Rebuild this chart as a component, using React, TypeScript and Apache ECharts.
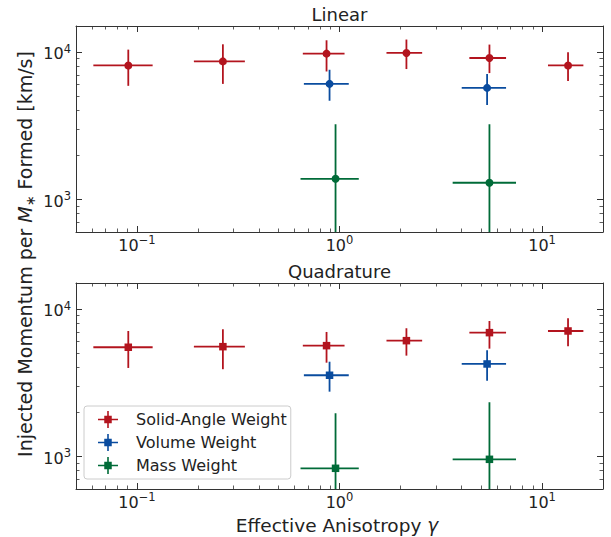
import React, { useEffect, useRef } from 'react';
import * as echarts from 'echarts';

// ---- data ----
const seriesNames = ['Solid-Angle Weight', 'Volume Weight', 'Mass Weight'];
const seriesColors = ['#b3141e', '#0a4c9f', '#006b38'];

// Effective anisotropy (x) centres and x error extents
const solidGamma = [0.0906, 0.2656, 0.863, 2.14, 5.5, 13.44];
const solidGammaLo = [0.0609, 0.191, 0.659, 1.706, 4.377, 10.7];
const solidGammaHi = [0.1195, 0.341, 1.059, 2.559, 6.643, 16.0];
const volumeGamma = [0.893, 5.355];
const volumeGammaLo = [0.667, 4.013];
const volumeGammaHi = [1.111, 6.643];
const massGamma = [0.956, 5.5];
const massGammaLo = [0.642, 3.62];
const massGammaHi = [1.245, 7.44];

// Linear panel: momentum [km/s]
const linSolid = [8100, 8627, 9737, 9843, 9100, 8100];
const linSolidLo = [5890, 6070, 7370, 7655, 7188, 6340];
const linSolidHi = [10370, 11270, 12000, 12140, 11220, 9940];
const linVolume = [6075, 5703];
const linVolumeLo = [4665, 4365];
const linVolumeHi = [7570, 7074];
const linMass = [1378, 1295];
const linMassLo = [-481, -647];
const linMassHi = [3237, 3237];

// Quadrature panel
const quadSolid = [5495, 5547, 5636, 6093, 6906, 7088];
const quadSolidLo = [3977, 3900, 4319, 4822, 5378, 5582];
const quadSolidHi = [7088, 7280, 6980, 7396, 8287, 8647];
const quadVolume = [3548, 4233];
const quadVolumeLo = [2746, 3261];
const quadVolumeHi = [4385, 5243];
const quadMass = [829, 954];
const quadMassLo = [-301, -418];
const quadMassHi = [1959, 2326];

const panelTitles = ['Linear', 'Quadrature'];
const X_MIN = 0.05;
const X_MAX = 20;
const Y_MIN = 600;
const Y_MAX = 15000;

const FONT = 'DejaVu Sans';
const INK = '#222';
const AXIS = '#333';

function rows(g: number[], gl: number[], gh: number[], y: number[], yl: number[], yh: number[]) {
  return g.map((v, i) => [v, y[i], gl[i], gh[i], yl[i], yh[i]]);
}

function supFormatter(v: number) {
  const l = Math.log10(v);
  const e = Math.round(l);
  if (Math.abs(l - e) > 1e-6) return '';
  const es = e < 0 ? '\u2212' + -e : String(e);
  return `{b|10}{s|${es}}`;
}

const labelRich = {
  b: { fontSize: 16, lineHeight: 18, padding: [4, 0, 0, 0], fontFamily: FONT, color: INK },
  s: { fontSize: 11.5, lineHeight: 13, verticalAlign: 'top', fontFamily: FONT, color: INK },
};

function makeErrorSeries(name: string, color: string, data: number[][], axisIdx: number, marker: 'circle' | 'square') {
  return {
    type: 'custom',
    name,
    xAxisIndex: axisIdx,
    yAxisIndex: axisIdx,
    clip: true,
    itemStyle: { color },
    encode: { x: 0, y: 1 },
    data,
    renderItem: (params: any, api: any) => {
      const x = api.value(0);
      const y = api.value(1);
      const c = api.coord([x, y]);
      const l = api.coord([api.value(2), y]);
      const r = api.coord([api.value(3), y]);
      const b = api.coord([x, Math.max(api.value(4), 1e-3)]);
      const t = api.coord([x, api.value(5)]);
      const ls = { stroke: color, lineWidth: 1.8 };
      const cs = params.coordSys;
      const mk =
        marker === 'circle'
          ? { type: 'circle', shape: { cx: c[0], cy: c[1], r: 4 }, style: { fill: color } }
          : { type: 'rect', shape: { x: c[0] - 3.75, y: c[1] - 3.75, width: 7.5, height: 7.5 }, style: { fill: color } };
      return {
        type: 'group',
        clipPath: { type: 'rect', shape: { x: cs.x, y: cs.y, width: cs.width, height: cs.height } },
        children: [
          { type: 'line', shape: { x1: l[0], y1: c[1], x2: r[0], y2: c[1] }, style: ls },
          { type: 'line', shape: { x1: c[0], y1: t[1], x2: c[0], y2: b[1] }, style: ls },
          mk,
        ],
      };
    },
  };
}

function xAxisFor(gridIndex: number, pos: 'bottom' | 'top') {
  return {
    type: 'log',
    gridIndex,
    position: pos,
    min: X_MIN,
    max: X_MAX,
    logBase: 10,
    axisLine: { show: true, onZero: false, lineStyle: { color: AXIS, width: 1 } },
    axisTick: { show: true, inside: true, length: 6, lineStyle: { color: AXIS, width: 1 } },
    minorTick: { show: true, splitNumber: 9, length: 3.5, lineStyle: { color: AXIS, width: 0.8 } },
    splitLine: { show: false },
    axisLabel: {
      show: pos === 'bottom',
      margin: 2,
      showMinLabel: false,
      showMaxLabel: false,
      formatter: supFormatter,
      rich: labelRich,
    },
  };
}

function yAxisFor(gridIndex: number, pos: 'left' | 'right') {
  return {
    type: 'log',
    gridIndex,
    position: pos,
    min: Y_MIN,
    max: Y_MAX,
    logBase: 10,
    axisLine: { show: true, onZero: false, lineStyle: { color: AXIS, width: 1 } },
    axisTick: { show: true, inside: true, length: 6, lineStyle: { color: AXIS, width: 1 } },
    minorTick: { show: true, splitNumber: 9, length: 3.5, lineStyle: { color: AXIS, width: 0.8 } },
    splitLine: { show: false },
    axisLabel: {
      show: pos === 'left',
      margin: 5,
      showMinLabel: false,
      showMaxLabel: false,
      formatter: supFormatter,
      rich: labelRich,
    },
  };
}

const legendIcon =
  'path://M9.2,0H10.8V17H9.2Z M0,7.7H20V9.3H0Z M6.25,4.75H13.75V12.25H6.25Z';

export default function App() {
  const ref = useRef<HTMLDivElement>(null);
  useEffect(() => {
    if (!ref.current) return;
    const chart = echarts.init(ref.current, undefined, { renderer: 'svg' });
    const panels = [
      {
        solid: rows(solidGamma, solidGammaLo, solidGammaHi, linSolid, linSolidLo, linSolidHi),
        volume: rows(volumeGamma, volumeGammaLo, volumeGammaHi, linVolume, linVolumeLo, linVolumeHi),
        mass: rows(massGamma, massGammaLo, massGammaHi, linMass, linMassLo, linMassHi),
        marker: 'circle' as const,
      },
      {
        solid: rows(solidGamma, solidGammaLo, solidGammaHi, quadSolid, quadSolidLo, quadSolidHi),
        volume: rows(volumeGamma, volumeGammaLo, volumeGammaHi, quadVolume, quadVolumeLo, quadVolumeHi),
        mass: rows(massGamma, massGammaLo, massGammaHi, quadMass, quadMassLo, quadMassHi),
        marker: 'square' as const,
      },
    ];
    const series: any[] = [];
    panels.forEach((p, gi) => {
      const axisIdx = gi * 2;
      series.push(makeErrorSeries(seriesNames[0], seriesColors[0], p.solid, axisIdx, p.marker));
      series.push(makeErrorSeries(seriesNames[1], seriesColors[1], p.volume, axisIdx, p.marker));
      series.push(makeErrorSeries(seriesNames[2], seriesColors[2], p.mass, axisIdx, p.marker));
    });

    const option: any = {
      animation: false,
      backgroundColor: '#ffffff',
      textStyle: { fontFamily: FONT },
      grid: [
        { left: 76, top: 26, width: 527, height: 206, containLabel: false },
        { left: 76, top: 283, width: 527, height: 206, containLabel: false },
      ],
      xAxis: [xAxisFor(0, 'bottom'), xAxisFor(0, 'top'), xAxisFor(1, 'bottom'), xAxisFor(1, 'top')],
      yAxis: [yAxisFor(0, 'left'), yAxisFor(0, 'right'), yAxisFor(1, 'left'), yAxisFor(1, 'right')],
      legend: {
        orient: 'vertical',
        left: 84,
        top: 406,
        data: seriesNames.map((n) => ({ name: n, icon: legendIcon })),
        itemWidth: 20,
        itemHeight: 17,
        itemGap: 6,
        padding: [5, 4, 5, 14],
        borderColor: '#cccccc',
        borderWidth: 1,
        borderRadius: 3,
        backgroundColor: 'rgba(255,255,255,0.8)',
        textStyle: { fontSize: 16, fontFamily: FONT, color: INK, padding: [0, 0, 0, 13] },
        selectedMode: false,
      },
      graphic: [
        {
          type: 'text',
          x: 339.5,
          y: 14.5,
          style: { text: panelTitles[0], fontSize: 18, fontFamily: FONT, fill: INK, align: 'center', verticalAlign: 'middle' },
        },
        {
          type: 'text',
          x: 339.5,
          y: 271.5,
          style: { text: panelTitles[1], fontSize: 18, fontFamily: FONT, fill: INK, align: 'center', verticalAlign: 'middle' },
        },
        {
          type: 'text',
          x: 337,
          y: 525,
          style: {
            text: '{n|Effective Anisotropy }{i|\u03b3}',
            align: 'center',
            verticalAlign: 'middle',
            rich: {
              n: { fontSize: 18.5, fontFamily: FONT, fill: INK },
              i: { fontSize: 18.5, fontFamily: FONT, fontStyle: 'italic', fill: INK },
            },
          },
        },
        {
          type: 'text',
          x: 25,
          y: 254,
          rotation: Math.PI / 2,
          style: {
            text: '{n|Injected Momentum per }{i|M}{s|\u2217}{n| Formed [km/s]}',
            align: 'center',
            verticalAlign: 'middle',
            rich: {
              n: { fontSize: 19, fontFamily: FONT, fill: INK, lineHeight: 24 },
              i: { fontSize: 19, fontFamily: FONT, fontStyle: 'italic', fill: INK, lineHeight: 24 },
              s: { fontSize: 13, fontFamily: FONT, fill: INK, lineHeight: 10, verticalAlign: 'bottom' },
            },
          },
        },
      ],
      series,
    };
    chart.setOption(option);
    return () => chart.dispose();
  }, []);
  return (
    <div
      ref={ref}
      style={{ position: 'absolute', left: 0, top: 0, width: 611, height: 537, background: '#fff' }}
    />
  );
}
